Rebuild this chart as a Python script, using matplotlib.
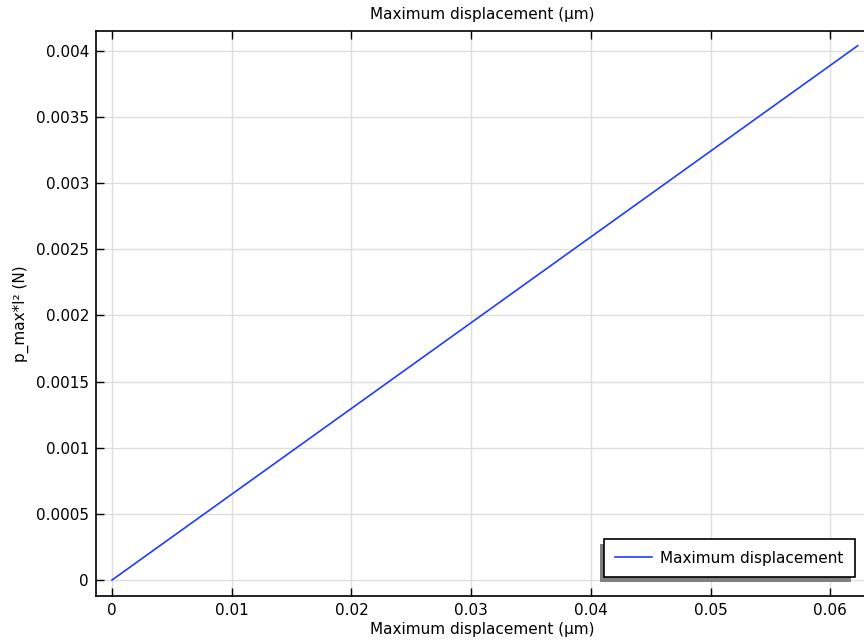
import matplotlib
matplotlib.use('Agg')
import matplotlib.pyplot as plt
import matplotlib.patches as mpatches
import matplotlib.transforms as mtransforms
from matplotlib.ticker import FuncFormatter, MultipleLocator

# data (linear response)
disp = [0.0, 0.0623]
force = [0.0, 0.00404]
series_name = 'Maximum displacement'

plt.rcParams['font.family'] = 'DejaVu Sans'
plt.rcParams['font.size'] = 11

fig = plt.figure(figsize=(8.64, 6.4), dpi=100)
ax = fig.add_axes([96 / 864, 44 / 640, 772 / 864, (596 - 31) / 640])

ax.plot(disp, force, color='#1f3dff', lw=1.2, label=series_name, zorder=3)

# x range chosen so x=0 sits at px 112 and 0.06 at px 830
ax.set_xlim(-0.00134, -0.00134 + 772 / 11970)
ax.set_ylim(-0.000121, 0.004151)
ax.xaxis.set_major_locator(MultipleLocator(0.01))
ax.yaxis.set_major_locator(MultipleLocator(0.0005))
fmt = FuncFormatter(lambda v, p: '%g' % round(v, 6))
ax.xaxis.set_major_formatter(fmt)
ax.yaxis.set_major_formatter(fmt)
ax.tick_params(direction='in', length=6, width=1, top=True, right=False,
               colors='black', pad=5)
ax.grid(True, color='#dedede', lw=1)
ax.set_axisbelow(True)
for s in ax.spines.values():
    s.set_linewidth(1.2)

ax.set_title('Maximum displacement (µm)', fontsize=11, pad=9)
ax.set_xlabel('Maximum displacement (µm)', labelpad=3)
ax.set_ylabel('p_max*l² (N)', labelpad=5)

leg = ax.legend(loc='lower right', fancybox=False, framealpha=1,
                edgecolor='black', borderaxespad=0, handlelength=2.4,
                handletextpad=0.55, borderpad=0.75,
                bbox_to_anchor=(855 / 864, (640 - 577) / 640),
                bbox_transform=fig.transFigure)
leg.get_frame().set_linewidth(1.2)
leg.set_zorder(6)

# offset grey shadow behind the legend (left and down)
fig.canvas.draw()
bb = leg.get_window_extent()
shadow = mpatches.Rectangle((bb.x0 - 4, bb.y0 - 5), bb.width, bb.height,
                            transform=mtransforms.IdentityTransform(),
                            facecolor='#808080', edgecolor='none',
                            zorder=5.5, clip_on=False)
ax.add_patch(shadow)

fig.savefig('out.png', dpi=100)
